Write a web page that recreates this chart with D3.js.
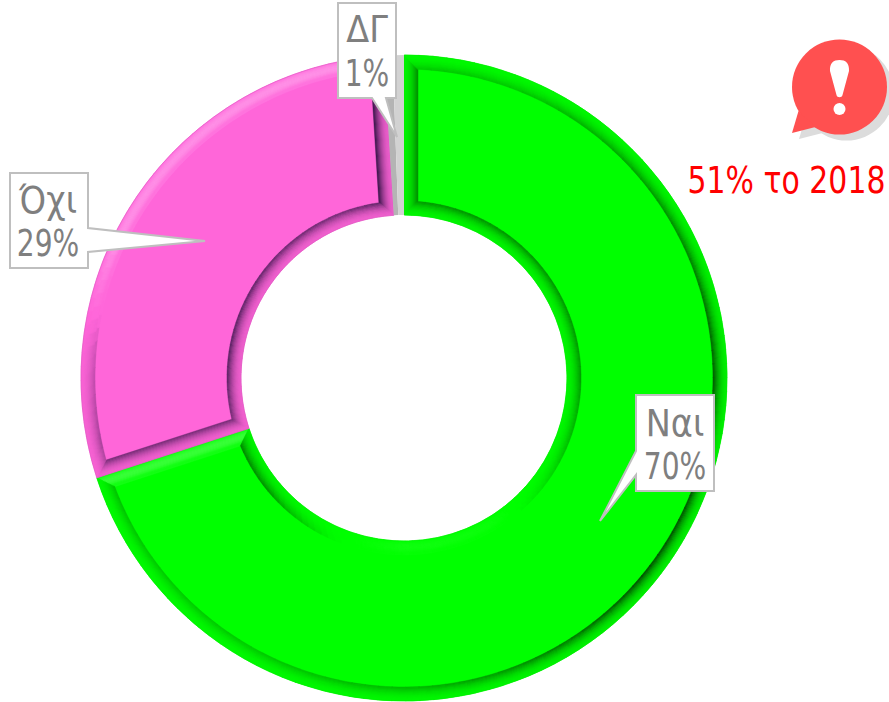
<!DOCTYPE html>
<html>
<head>
<meta charset="utf-8">
<style>html,body{margin:0;padding:0;background:#fff}svg{display:block}</style>
<script src="https://cdn.jsdelivr.net/npm/d3@7/dist/d3.min.js"></script>
</head>
<body>
<svg id="chart" width="889" height="702"></svg>
<script>
const categories = ["Ναι", "Όχι", "ΔΓ"];
const values = [70, 29, 1];
const valueLabels = ["70%", "29%", "1%"];
const note = "51% το 2018";

const baseColors = ["#00ff00", "#ff66d9", "#c4c4c4"];
const darkColors = ["#005000", "#401850", "#8c8c8c"];
const lightColors = ["#55ff55", "#ffb0f0", "#e6e6e6"];
const edgeColors = ["#00f000", "#e05cc4", "#a8a8a8"];

const outerAngles = [0, 20, 45, 90, 130, 160, 180, 210, 235, 252, 258, 275, 295, 356, 360];
const outerShade  = [.3, .3, .5, .9, 1, .6, .4, .3, .3, .35, .45, .25, -.55, -.6, -.6];
const innerAngles = [0, 20, 45, 90, 115, 150, 180, 205, 230, 252, 258, 275, 300, 340, 360];
const innerShade  = [.55, .6, .6, .55, .35, -.15, -.2, .05, .6, .7, .7, .85, .8, .7, .85];
const startSideShade = [.6, .7, 0];
const endSideShade = [-.7, 1, 0];

const svg = d3.select("#chart");
const cx = 404, cy = 378, R = 323, r0 = 163, bevel = 14;
const g = svg.append("g").attr("transform", `translate(${cx},${cy})`);

const pie = d3.pie().sort(null).value(d => d);
const slices = pie(values);
const deg = 180 / Math.PI;

const outerScale = d3.scaleLinear().domain(outerAngles).range(outerShade);
const innerScale = d3.scaleLinear().domain(innerAngles).range(innerShade);
const profile = u => 0.12 + 0.88 * Math.pow(u, 1.9);
const tone = (i, d, u) => d >= 0
  ? d3.interpolateRgb(baseColors[i], darkColors[i])(d * profile(u))
  : d3.interpolateRgb(baseColors[i], lightColors[i])(-d * (u < .85 ? Math.sin(Math.PI * (u * .9 + .1)) : .35));

const arc = d3.arc();
const radial = d3.lineRadial().angle(d => d[0]).radius(d => d[1]);

function paint(path, col, sw) {
  g.append("path").attr("d", path).attr("fill", col)
    .attr("stroke", col).attr("stroke-width", sw === undefined ? .5 : sw);
}

slices.forEach((s, i) => {
  if (i === 2) {
    const mid = (s.startAngle + s.endAngle) / 2 - .004;
    g.append("path").attr("d", arc({innerRadius: r0, outerRadius: R, startAngle: s.startAngle, endAngle: mid})).attr("fill", "#b4b4b4");
    g.append("path").attr("d", arc({innerRadius: r0, outerRadius: R, startAngle: mid, endAngle: s.endAngle})).attr("fill", "#d2d2d2");
    return;
  }
  g.append("path")
    .attr("d", arc({innerRadius: r0, outerRadius: R, startAngle: s.startAngle, endAngle: s.endAngle}))
    .attr("fill", baseColors[i]);

  for (let t = 0; t < bevel; t++) {
    const u = t / (bevel - 1);
    [[s.startAngle, 1, startSideShade[i]], [s.endAngle, -1, endSideShade[i]]].forEach(([a, dir, sh]) => {
      const ra = r0 + t, rb = R - t;
      const ra2 = r0 + t + 1, rb2 = R - t - 1;
      const pts = [
        [a + dir * Math.asin(t / ra), ra],
        [a + dir * Math.asin(t / rb), rb],
        [a + dir * Math.asin((t + 1) / rb2), rb2],
        [a + dir * Math.asin((t + 1) / ra2), ra2]
      ];
      paint(radial(pts) + "Z", tone(i, sh, u));
    });
  }
  const stepA = 2.5 / deg;
  for (let t = 0; t < bevel; t++) {
    const u = t / (bevel - 1);
    [[R - t - 1, R - t, outerScale], [r0 + t, r0 + t + 1, innerScale]].forEach(([ri, ro, sc]) => {
      const rm = (ri + ro) / 2;
      const edge = Math.asin((t + .5) / rm);
      const a0 = s.startAngle + edge, a1 = s.endAngle - edge;
      const n = Math.max(1, Math.ceil((a1 - a0) / stepA));
      const seg = d3.range(n).map(k => a0 + (a1 - a0) * k / n);
      seg.forEach(b => {
        const e = Math.min(b + (a1 - a0) / n + .002, a1);
        paint(arc({innerRadius: ri, outerRadius: ro, startAngle: b, endAngle: e}),
          tone(i, sc((b + e) / 2 * deg), u));
      });
    });
  }
  g.append("path")
    .attr("d", arc({innerRadius: r0, outerRadius: R, startAngle: s.startAngle, endAngle: s.endAngle}))
    .attr("fill", "none").attr("stroke", edgeColors[i]).attr("stroke-width", .6);
});

// callouts
const calloutBoxes = [
  {x0: 636, x1: 714, y0: 395, y1: 491},
  {x0: 10, x1: 88, y0: 173, y1: 268},
  {x0: 338, x1: 396, y0: 3, y1: 98}
];
const calloutTails = [
  [[636, 451], [600, 521], [636, 475]],
  [[88, 252], [205, 241], [88, 228]],
  [[372, 98], [397, 137], [386, 98]]
];
const textAnchors = [
  {x: 675, y1: 436, y2: 479},
  {x: 48, y1: 213, y2: 256},
  {x: 367, y1: 42, y2: 86}
];
const line = d3.line();
[0, 1, 2].forEach(i => {
  const b = calloutBoxes[i], t = calloutTails[i];
  let outline;
  if (i === 0) outline = [[b.x0, b.y0], [b.x1, b.y0], [b.x1, b.y1], [b.x0, b.y1], t[2], t[1], t[0]];
  if (i === 1) outline = [[b.x0, b.y0], [b.x1, b.y0], t[2], t[1], t[0], [b.x1, b.y1], [b.x0, b.y1]];
  if (i === 2) outline = [[b.x0, b.y0], [b.x1, b.y0], [b.x1, b.y1], t[2], t[1], t[0], [b.x0, b.y1]];
  svg.append("path").attr("d", line(outline) + "Z")
    .attr("fill", "#fff").attr("stroke", "#bfbfbf").attr("stroke-width", 2)
    .attr("stroke-linejoin", "miter");
  const a = textAnchors[i];
  [[categories[i], a.y1, .92], [valueLabels[i], a.y2, .77]].forEach(([txt, y, sx]) => {
    svg.append("text")
      .attr("transform", `translate(${a.x},${y}) scale(${sx},1)`)
      .attr("text-anchor", "middle")
      .attr("font-family", "'DejaVu Sans', sans-serif")
      .attr("font-size", 36.5)
      .attr("fill", "#7f7f7f")
      .text(txt);
  });
});

// alert icon
function icon(sel, dx, dy, col) {
  const ic = sel.append("g").attr("transform", `translate(${839.5 + dx},${87 + dy})`);
  ic.append("circle").attr("r", 47.5).attr("fill", col);
  ic.append("path").attr("d", d3.line()([[-41, 24], [-47.5, 46], [-24, 40]]) + "Z").attr("fill", col);
  return ic;
}
icon(svg, 7, 6, "#dcdcdc");
const ic = icon(svg, 0, 0, "#ff5050");
ic.append("path")
  .attr("d", "M-9.5,-16 C-10,-24 -6,-27 0,-27 C6,-27 10,-24 9.5,-16 L3,8 C2.5,11 -2.5,11 -3,8 Z")
  .attr("fill", "#fff");
ic.append("circle").attr("cx", 0).attr("cy", 22).attr("r", 6).attr("fill", "#fff");

svg.append("text")
  .attr("transform", "translate(786.5,193) scale(.82,1)")
  .attr("text-anchor", "middle")
  .attr("font-family", "'DejaVu Sans', sans-serif")
  .attr("font-size", 36.5)
  .attr("fill", "#ff0000")
  .text(note);
</script>
</body>
</html>
